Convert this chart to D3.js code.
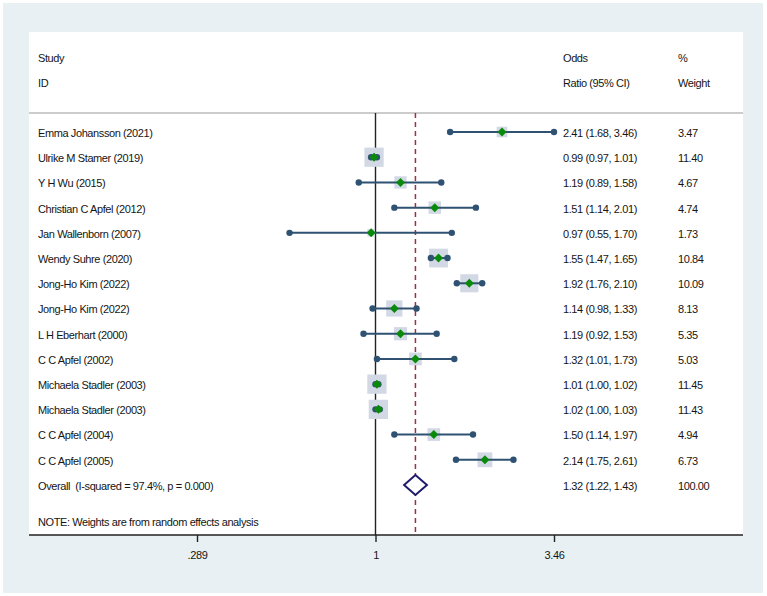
<!DOCTYPE html>
<html>
<head>
<meta charset="utf-8">
<script src="https://cdn.jsdelivr.net/npm/d3@7"></script>
<style>
  body { margin: 0; background: #fff; }
  text { font-family: "Liberation Sans", Arial, sans-serif; font-size: 11px; letter-spacing: -0.4px; fill: #151515; white-space: pre; }
</style>
</head>
<body>
<script>
var studies = ["Emma Johansson (2021)", "Ulrike M Stamer (2019)", "Y H Wu (2015)", "Christian C Apfel (2012)",
    "Jan Wallenborn (2007)", "Wendy Suhre (2020)", "Jong-Ho Kim (2022)", "Jong-Ho Kim (2022)",
    "L H Eberhart (2000)", "C C Apfel (2002)", "Michaela Stadler (2003)", "Michaela Stadler (2003)",
    "C C Apfel (2004)", "C C Apfel (2005)"];
var oddsRatio = [2.41, 0.99, 1.19, 1.51, 0.97, 1.55, 1.92, 1.14, 1.19, 1.32, 1.01, 1.02, 1.50, 2.14];
var lower     = [1.68, 0.97, 0.89, 1.14, 0.55, 1.47, 1.76, 0.98, 0.92, 1.01, 1.00, 1.00, 1.14, 1.75];
var upper     = [3.46, 1.01, 1.58, 2.01, 1.70, 1.65, 2.10, 1.33, 1.53, 1.73, 1.02, 1.03, 1.97, 2.61];
var weights   = [3.47, 11.40, 4.67, 4.74, 1.73, 10.84, 10.09, 8.13, 5.35, 5.03, 11.45, 11.43, 4.94, 6.73];
var overall = { label: "Overall  (I-squared = 97.4%, p = 0.000)", or: 1.32, lower: 1.22, upper: 1.43, weight: 100.00 };
var tickValues = [0.289, 1, 3.46];
var tickLabels = [".289", "1", "3.46"];

var width = 767, height = 596;
var panel = { left: 29, right: 743, top: 32, bottom: 535 };

var svg = d3.select("body").append("svg")
    .attr("width", width)
    .attr("height", height);

// outer light background
svg.append("rect")
    .attr("x", 3).attr("y", 3)
    .attr("width", 760).attr("height", 590)
    .attr("fill", "#e9f0f3");

// white plot panel
svg.append("rect")
    .attr("x", panel.left).attr("y", panel.top)
    .attr("width", panel.right - panel.left)
    .attr("height", panel.bottom - panel.top)
    .attr("fill", "#fff");

var x = d3.scaleLog()
    .domain([0.289, 3.46])
    .range([197, 554]);

var rows = studies.concat([overall.label]);
var y = d3.scalePoint()
    .domain(d3.range(rows.length))
    .range([132, 485]);

var headerY = 113;

// header
svg.append("line")
    .attr("x1", panel.left).attr("x2", panel.right)
    .attr("y1", headerY).attr("y2", headerY)
    .attr("stroke", "#9a9a9a").attr("stroke-width", 1.2);

var header = [
    { x: 38, t1: "Study", t2: "ID" },
    { x: 563, t1: "Odds", t2: "Ratio (95% CI)" },
    { x: 678, t1: "%", t2: "Weight" }
];
header.forEach(function(h) {
    svg.append("text").attr("x", h.x).attr("y", 62).text(h.t1);
    svg.append("text").attr("x", h.x).attr("y", 87).text(h.t2);
});

// dashed line at overall estimate
svg.append("line")
    .attr("x1", x(overall.or)).attr("x2", x(overall.or))
    .attr("y1", headerY).attr("y2", panel.bottom)
    .attr("stroke", "#a0303a").attr("stroke-width", 1.5)
    .attr("stroke-dasharray", "5,4");

// no-effect line
svg.append("line")
    .attr("x1", x(1)).attr("x2", x(1))
    .attr("y1", headerY).attr("y2", panel.bottom)
    .attr("stroke", "#222").attr("stroke-width", 1.4);

var data = studies.map(function(s, i) {
    return { name: s, or: oddsRatio[i], lo: lower[i], hi: upper[i], w: weights[i], i: i };
});

var g = svg.append("g").attr("class", "studies");

var row = g.selectAll("g.row")
    .data(data)
    .enter().append("g")
    .attr("class", "row")
    .attr("transform", function(d) { return "translate(0," + y(d.i) + ")"; });

// weight boxes
row.append("rect")
    .attr("x", function(d) { return x(d.or) - 2.85 * Math.sqrt(d.w); })
    .attr("y", function(d) { return -2.85 * Math.sqrt(d.w); })
    .attr("width", function(d) { return 5.7 * Math.sqrt(d.w); })
    .attr("height", function(d) { return 5.7 * Math.sqrt(d.w); })
    .attr("fill", "#d2d9e5");

// CI lines
row.append("line")
    .attr("x1", function(d) { return x(d.lo); })
    .attr("x2", function(d) { return x(d.hi); })
    .attr("stroke", "#2f5272").attr("stroke-width", 2);

row.selectAll("circle")
    .data(function(d) { return [d.lo, d.hi]; })
    .enter().append("circle")
    .attr("cx", function(v) { return x(v); })
    .attr("r", 3.2)
    .attr("fill", "#2f5272");

// point estimate diamond
row.append("path")
    .attr("d", function(d) {
        var cx = x(d.or), r = 4.5;
        return "M" + (cx - r) + ",0L" + cx + "," + (-r) + "L" + (cx + r) + ",0L" + cx + "," + r + "Z";
    })
    .attr("fill", "#0a8a0a");

// labels
row.append("text")
    .attr("x", 38).attr("y", 1).attr("dy", "0.35em")
    .text(function(d) { return d.name; });

row.append("text")
    .attr("x", 563).attr("y", 1).attr("dy", "0.35em")
    .text(function(d) { return d.or.toFixed(2) + " (" + d.lo.toFixed(2) + ", " + d.hi.toFixed(2) + ")"; });

row.append("text")
    .attr("x", 678).attr("y", 1).attr("dy", "0.35em")
    .text(function(d) { return d.w.toFixed(2); });

// overall row
var oy = y(studies.length);
svg.append("path")
    .attr("d", "M" + x(overall.lower) + "," + oy +
        "L" + x(overall.or) + "," + (oy - 10) +
        "L" + x(overall.upper) + "," + oy +
        "L" + x(overall.or) + "," + (oy + 10) + "Z")
    .attr("fill", "#fff")
    .attr("stroke", "#1c1c6a")
    .attr("stroke-width", 2);

svg.append("text").attr("x", 38).attr("y", oy + 1).attr("dy", "0.35em").text(overall.label);
svg.append("text").attr("x", 563).attr("y", oy + 1).attr("dy", "0.35em")
    .text(overall.or.toFixed(2) + " (" + overall.lower.toFixed(2) + ", " + overall.upper.toFixed(2) + ")");
svg.append("text").attr("x", 678).attr("y", oy + 1).attr("dy", "0.35em").text(overall.weight.toFixed(2));

svg.append("text").attr("x", 38).attr("y", 522).attr("dy", "0.35em")
    .text("NOTE: Weights are from random effects analysis");

// x axis
var axis = d3.axisBottom(x)
    .tickValues(tickValues)
    .tickFormat(function(d, i) { return tickLabels[i]; })
    .tickSize(7)
    .tickPadding(9);

var ax = svg.append("g")
    .attr("transform", "translate(0," + panel.bottom + ")")
    .call(axis);
ax.select(".domain").remove();
ax.selectAll(".tick line").attr("stroke", "#222").attr("stroke-width", 1.4);
ax.selectAll(".tick text").attr("font-size", null).attr("font-family", null).attr("fill", "#151515");

svg.append("line")
    .attr("x1", panel.left).attr("x2", panel.right)
    .attr("y1", panel.bottom).attr("y2", panel.bottom)
    .attr("stroke", "#222").attr("stroke-width", 1.4);
</script>
</body>
</html>
